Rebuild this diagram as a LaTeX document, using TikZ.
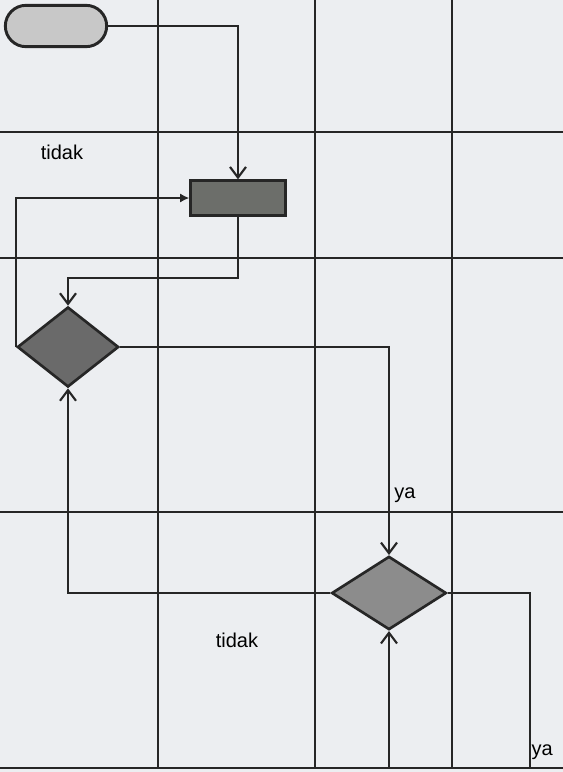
\documentclass[tikz,border=0pt]{standalone}
\usepackage{fontspec}
\setmainfont{Liberation Sans}
\usetikzlibrary{shapes.geometric,shapes.misc,arrows.meta,positioning}
\definecolor{paper}{HTML}{ECEEF1}
\definecolor{termgray}{HTML}{C8C8C8}
\definecolor{procgray}{HTML}{6C6E6A}
\definecolor{decgray}{HTML}{6A6A6A}
\definecolor{decgraylt}{HTML}{8C8C8C}
\tikzset{>={Straight Barb[length=8pt,width=12pt]}}
\tikzset{font=\fontsize{15}{18}\selectfont}
\tikzset{gridline/.style={line width=1.6pt, draw=black!85},
  flow/.style={line width=1.6pt, draw=black!85},
  terminal/.style={rounded rectangle, draw=black!85, line width=2.2pt,
    fill=termgray, minimum width=76pt, minimum height=31pt, inner sep=0pt},
  process/.style={rectangle, draw=black!85, line width=2pt,
    fill=procgray, minimum width=71pt, minimum height=26pt, inner sep=0pt},
  decision/.style={diamond, draw=black!85, line width=2pt,
    fill=decgray, inner sep=0pt}}
\begin{document}
\begin{tikzpicture}[x=0.75pt,y=-0.75pt]
  \fill[paper] (0,0) rectangle (563,772);
  \useasboundingbox (0,0) rectangle (563,772);
  % swimlane grid
  \foreach \y in {132,258,512,768}
    \draw[gridline] (0,\y) -- (563,\y);
  \foreach \x in {158,315,452}
    \draw[gridline] (\x,0) -- (\x,768);
  % shapes
  \node[terminal] (start) at (56,26) {};
  \node[process] (proc) at (238,198) {};
  \node[decision, minimum width=76pt, minimum height=60pt] (dec1) at (68,347) {};
  \node[decision, fill=decgraylt, minimum width=86pt, minimum height=55pt] (dec2) at (389,593) {};
  \coordinate (bend1) at (238,278);
  \coordinate (upin) at (389,768);
  \coordinate (yaend) at (530,768);
  % connectors
  \draw[flow,->] (start.east) -| (proc.north);
  \draw[flow,-{Latex[length=7pt,width=7pt]}] (dec1.west) |- (proc.west);
  \draw[flow,->] (proc.south) -- (bend1) -| (dec1.north);
  \draw[flow,->] (dec1.east) -| (dec2.north);
  \draw[flow,->] (dec2.west) -| (dec1.south);
  \draw[flow,->] (upin) -- (dec2.south);
  \draw[flow] (dec2.east) -| (yaend);
  % labels
  \node (tidak1) at (62,152) {tidak};
  \node (tidak2) at (237,640) {tidak};
  \node (ya1) at (405,495) {ya};
  \node[anchor=west, inner sep=1pt] (ya2) at (yaend |- 0,752) {ya};
\end{tikzpicture}
\end{document}
